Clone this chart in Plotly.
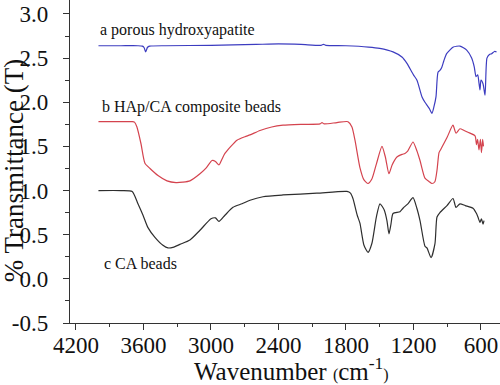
import plotly.graph_objects as go

# ---- data ----
wn_a = [4000, 3800, 3650, 3610, 3595, 3580, 3565, 3545, 3400, 3000, 2600, 2400, 2200, 2020, 2000,
        1980, 1800, 1600, 1500, 1382, 1300, 1258, 1200, 1169, 1124, 1098, 1060, 1036, 1018, 1000,
        982, 965, 950, 930, 905, 846, 787, 727, 683, 660, 644, 629, 618, 609, 600, 582, 564, 547,
        525, 505, 480, 462]
y_a = [2.64, 2.64, 2.64, 2.635, 2.62, 2.57, 2.62, 2.635, 2.64, 2.645, 2.655, 2.66, 2.655, 2.645, 2.655,
       2.645, 2.64, 2.625, 2.61, 2.57, 2.51, 2.44, 2.31, 2.25, 2.06, 2.00, 1.93, 1.875, 1.95, 2.06,
       2.34, 2.36, 2.39, 2.47, 2.55, 2.625, 2.636, 2.59, 2.50, 2.40, 2.29, 2.31, 2.22, 2.14, 2.25, 2.21,
       2.08, 2.50, 2.54, 2.55, 2.575, 2.57]

wn_b = [4000, 3800, 3700, 3680, 3658, 3622, 3587, 3542, 3471, 3391, 3311, 3250, 3187, 3098, 3040,
        2991, 2960, 2929, 2900, 2876, 2769, 2698, 2653, 2564, 2460, 2360, 2182, 2030, 2013, 1995,
        1880, 1782, 1747, 1720, 1676, 1640, 1604, 1570, 1530, 1480, 1450, 1418, 1390, 1347, 1300,
        1276, 1250, 1204, 1170, 1142, 1098, 1060, 1036, 1010, 991, 973, 960, 902, 849, 822, 787,
        750, 716, 653, 640, 630, 618, 605, 596, 585, 578]
y_b = [1.78, 1.78, 1.78, 1.775, 1.72, 1.53, 1.31, 1.25, 1.17, 1.11, 1.09, 1.095, 1.11, 1.19, 1.26,
       1.34, 1.33, 1.29, 1.36, 1.42, 1.57, 1.61, 1.63, 1.68, 1.72, 1.74, 1.75, 1.755, 1.77, 1.755,
       1.77, 1.78, 1.72, 1.57, 1.26, 1.12, 1.08, 1.13, 1.30, 1.50, 1.38, 1.19, 1.29, 1.38, 1.41,
       1.42, 1.45, 1.55, 1.45, 1.34, 1.14, 1.10, 1.08, 1.10, 1.23, 1.43, 1.46, 1.60, 1.74, 1.65, 1.70,
       1.68, 1.66, 1.62, 1.52, 1.58, 1.46, 1.58, 1.43, 1.58, 1.50]

wn_c = [4000, 3800, 3700, 3649, 3604, 3560, 3498, 3427, 3382, 3330, 3276, 3187, 3098, 3000, 2960,
        2929, 2876, 2804, 2724, 2653, 2538, 2360, 2058, 1791, 1760, 1738, 1700, 1676, 1640, 1604,
        1570, 1530, 1498, 1460, 1436, 1418, 1400, 1382, 1320, 1293, 1250, 1204, 1170, 1142, 1098,
        1080, 1044, 1009, 991, 965, 902, 849, 822, 787, 740, 671, 640, 627, 609, 596, 582, 573]
y_c = [1.0, 1.0, 0.99, 0.85, 0.72, 0.58, 0.47, 0.38, 0.35, 0.36, 0.39, 0.44, 0.55, 0.68, 0.69,
       0.65, 0.72, 0.81, 0.85, 0.89, 0.93, 0.95, 0.97, 0.99, 0.97, 0.91, 0.72, 0.63, 0.38, 0.30,
       0.40, 0.70, 0.85, 0.78, 0.66, 0.51, 0.62, 0.74, 0.76, 0.80, 0.85, 0.92, 0.80, 0.66, 0.37,
       0.35, 0.24, 0.40, 0.70, 0.75, 0.83, 0.91, 0.81, 0.85, 0.83, 0.80, 0.74, 0.70, 0.64, 0.68,
       0.62, 0.66]

series_names = ["a porous hydroxyapatite", "b HAp/CA composite beads", "c CA beads"]
x_tickvals = [4200, 3600, 3000, 2400, 1800, 1200, 600]
x_ticktext = ["4200", "3600", "3000", "2400", "1800", "1200", "600"]
y_tickvals = [-0.5, 0.0, 0.5, 1.0, 1.5, 2.0, 2.5, 3.0]
y_ticktext = ["-0.5", "0.0", "0.5", "1.0", "1.5", "2.0", "2.5", "3.0"]

FONT = "Liberation Serif"
colors = ["#3c3cc0", "#d4434e", "#2e2e2e"]

fig = go.Figure()
for wn, yy, c, name in zip([wn_a, wn_b, wn_c], [y_a, y_b, y_c], colors, series_names):
    fig.add_trace(go.Scatter(x=wn, y=yy, mode="lines", name=name,
                             line=dict(color=c, width=1.2, shape="spline", smoothing=0.6),
                             showlegend=False))

# curve labels
label_pos = [(4004, 2.82), (3990, 1.95), (3969, 0.17)]
for (lx, ly), name in zip(label_pos, series_names):
    fig.add_annotation(x=lx, y=ly, xref="x", yref="y", text=name, showarrow=False,
                       xanchor="left", yanchor="middle",
                       font=dict(family=FONT, size=16, color="#111111"))

# axis titles
fig.add_annotation(xref="paper", yref="paper", x=0, y=0.47, xshift=-56,
                   text="% Transmittance (T)", textangle=-90, showarrow=False,
                   xanchor="center", yanchor="middle",
                   font=dict(family=FONT, size=27, color="#111111"))
fig.add_annotation(xref="paper", yref="paper", x=0.514, y=0, yshift=-46,
                   text="Wavenumber <span style='font-size:16px'>(</span>cm<sup>-1</sup><span style='font-size:16px'>)</span>",
                   showarrow=False, xanchor="center", yanchor="middle",
                   font=dict(family=FONT, size=25, color="#111111"))

axis_common = dict(showline=True, linecolor="#333333", linewidth=1.3, showgrid=False,
                   zeroline=False, ticks="outside", tickcolor="#333333", tickwidth=1.2,
                   ticklen=6, automargin=False,
                   tickfont=dict(family=FONT, size=23, color="#111111"))

fig.update_xaxes(range=[4253, 431], tickvals=x_tickvals, ticktext=x_ticktext,
                 ticklabelstandoff=-5,
                 minor=dict(ticks="outside", ticklen=3, dtick=300, tick0=0,
                            tickcolor="#333333", showgrid=False),
                 **axis_common)
fig.update_yaxes(range=[-0.5, 3.158], tickvals=y_tickvals, ticktext=y_ticktext,
                 ticklabelstandoff=10,
                 minor=dict(ticks="outside", ticklen=4, dtick=0.25, tick0=0,
                            tickcolor="#333333", showgrid=False),
                 **axis_common)

fig.update_layout(width=500, height=385, margin=dict(l=70, r=0, t=0, b=62),
                  paper_bgcolor="white", plot_bgcolor="white")

fig.write_html("out.html", config={"displayModeBar": False},
               post_script="document.body.style.margin='0px';")
